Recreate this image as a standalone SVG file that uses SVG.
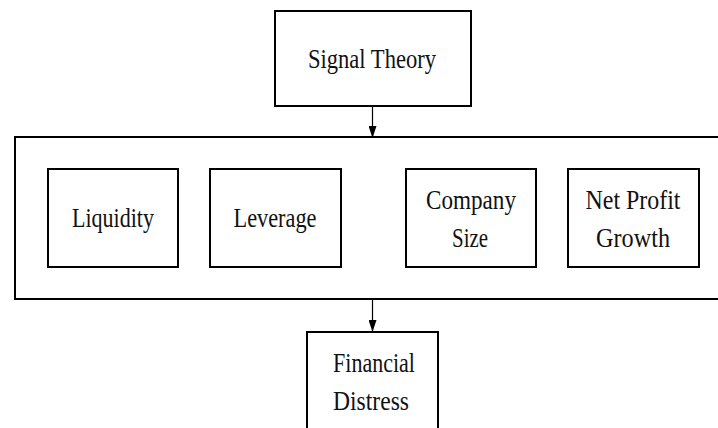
<svg xmlns="http://www.w3.org/2000/svg" width="718" height="428" viewBox="0 0 718 428">
<style>
.box{fill:#fff;stroke:#000;stroke-width:2}
.frame{fill:none;stroke:#000;stroke-width:2}
.lbl{font-family:"Liberation Serif","Times New Roman",serif;font-size:28px;fill:#111;text-anchor:middle}
.conn{stroke:#000;stroke-width:1.2;fill:none}
</style>
<defs>
<marker id="ah" viewBox="0 0 12 8" refX="12" refY="4" markerWidth="12" markerHeight="8" markerUnits="userSpaceOnUse" orient="auto">
<path d="M0,0 L12,4 L0,8 Z" fill="#000"/>
</marker>
</defs>
<rect width="718" height="428" fill="#fff"/>
<g id="frame"><rect class="frame" x="15" y="137" width="720" height="162"/></g>
<g id="signal-theory"><rect class="box" x="275" y="11" width="196" height="95"/>
<text class="lbl" x="372" y="68" textLength="128" lengthAdjust="spacingAndGlyphs">Signal Theory</text></g>
<g id="liquidity"><rect class="box" x="48" y="169" width="130" height="98"/>
<text class="lbl" x="113" y="227" textLength="82" lengthAdjust="spacingAndGlyphs">Liquidity</text></g>
<g id="leverage"><rect class="box" x="210" y="169" width="131" height="98"/>
<text class="lbl" x="275" y="227" textLength="83" lengthAdjust="spacingAndGlyphs">Leverage</text></g>
<g id="company-size"><rect class="box" x="406" y="169" width="130" height="98"/>
<text class="lbl" x="471" y="209" textLength="90" lengthAdjust="spacingAndGlyphs">Company</text>
<text class="lbl" x="470" y="247" textLength="36" lengthAdjust="spacingAndGlyphs">Size</text></g>
<g id="net-profit-growth"><rect class="box" x="568" y="169" width="131" height="98"/>
<text class="lbl" x="633" y="209" textLength="95" lengthAdjust="spacingAndGlyphs">Net Profit</text>
<text class="lbl" x="633" y="247" textLength="74" lengthAdjust="spacingAndGlyphs">Growth</text></g>
<g id="financial-distress"><rect class="box" x="307" y="332" width="131" height="110"/>
<text class="lbl" x="374" y="372" textLength="82" lengthAdjust="spacingAndGlyphs">Financial</text>
<text class="lbl" x="371" y="410" textLength="76" lengthAdjust="spacingAndGlyphs">Distress</text></g>
<g id="connectors">
<line class="conn" x1="372.5" y1="106" x2="372.5" y2="138" marker-end="url(#ah)"/>
<line class="conn" x1="372.5" y1="299" x2="372.5" y2="332" marker-end="url(#ah)"/>
</g>
</svg>
